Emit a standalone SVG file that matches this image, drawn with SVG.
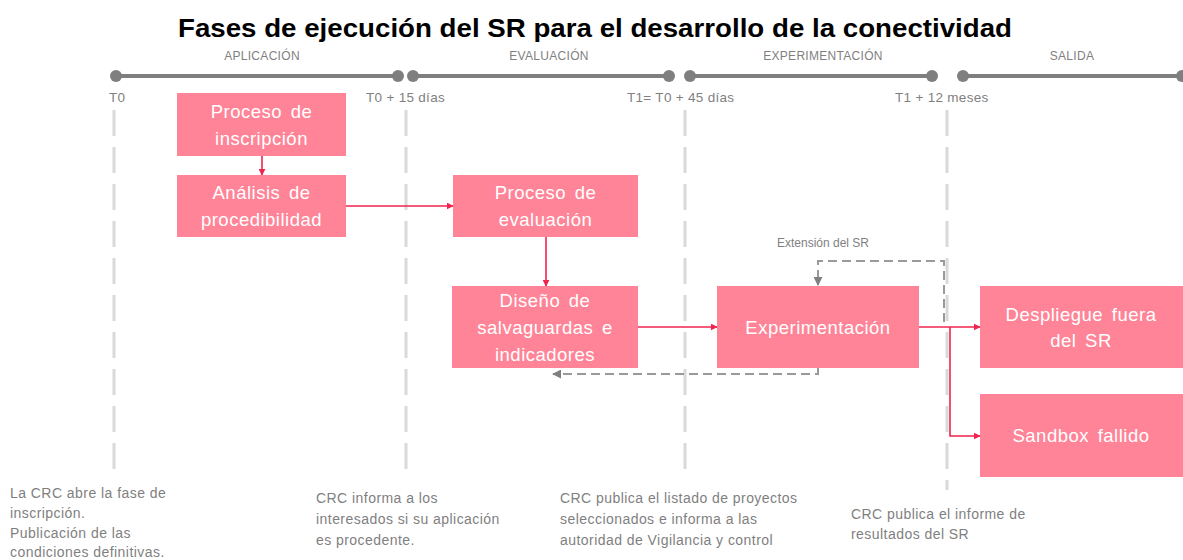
<svg xmlns="http://www.w3.org/2000/svg" width="1183" height="560" viewBox="0 0 1183 560">
<style>
.box{fill:#ff8497}
.bt{font-family:"Liberation Sans",Arial,sans-serif;font-size:18.5px;fill:#ffffff;text-anchor:middle;letter-spacing:0.5px;word-spacing:3px}
.ph{font-family:"Liberation Sans",Arial,sans-serif;font-size:12px;fill:#7f7f7f;text-anchor:middle;letter-spacing:0.3px}
.tl{font-family:"Liberation Sans",Arial,sans-serif;font-size:13.5px;fill:#7f7f7f;letter-spacing:0.3px}
.nt{font-family:"Liberation Sans",Arial,sans-serif;font-size:14px;fill:#7f7f7f;letter-spacing:0.45px}
.seg{stroke:#7f7f7f;stroke-width:4;fill:none}
.dot{fill:#7f7f7f}
.vl{stroke:#d9d9d9;stroke-width:3;stroke-dasharray:26 11;fill:none}
.ra{stroke:#f0244f;stroke-width:1.6;fill:none;marker-end:url(#ar)}
.ga{stroke:#9a9a9a;stroke-width:2;stroke-dasharray:9 5;fill:none;marker-end:url(#ag)}
</style>
<defs>
<marker id="ar" viewBox="0 0 10 10" refX="9" refY="5" markerWidth="7" markerHeight="7" markerUnits="userSpaceOnUse" orient="auto"><path d="M0,0 L10,5 L0,10 z" fill="#f0244f"/></marker>
<marker id="ag" viewBox="0 0 10 10" refX="9" refY="5" markerWidth="9" markerHeight="9" markerUnits="userSpaceOnUse" orient="auto"><path d="M0,0 L10,5 L0,10 z" fill="#7f7f7f"/></marker>
</defs>
<rect width="1183" height="560" fill="#ffffff"/>
<text x="595" y="37" font-family="'Liberation Sans',Arial,sans-serif" font-size="26" font-weight="bold" fill="#000" text-anchor="middle" textLength="834" lengthAdjust="spacingAndGlyphs">Fases de ejecución del SR para el desarrollo de la conectividad</text>
<g id="timeline">
<text class="ph" x="262" y="60">APLICACIÓN</text>
<text class="ph" x="549" y="60">EVALUACIÓN</text>
<text class="ph" x="823" y="60">EXPERIMENTACIÓN</text>
<text class="ph" x="1072" y="60">SALIDA</text>
<line class="seg" x1="116" y1="76" x2="398" y2="76"/><circle class="dot" cx="116" cy="76" r="6"/><circle class="dot" cx="398" cy="76" r="6"/>
<line class="seg" x1="413" y1="76" x2="669" y2="76"/><circle class="dot" cx="413" cy="76" r="6"/><circle class="dot" cx="669" cy="76" r="6"/>
<line class="seg" x1="690" y1="76" x2="932" y2="76"/><circle class="dot" cx="690" cy="76" r="6"/><circle class="dot" cx="932" cy="76" r="6"/>
<line class="seg" x1="963" y1="76" x2="1182" y2="76"/><circle class="dot" cx="963" cy="76" r="6"/><circle class="dot" cx="1182" cy="76" r="6"/>
<text class="tl" x="109" y="102">T0</text>
<text class="tl" x="366" y="102">T0 + 15 días</text>
<text class="tl" x="627" y="102">T1= T0 + 45 días</text>
<text class="tl" x="895" y="102">T1 + 12 meses</text>
<line class="vl" x1="114" y1="110" x2="114" y2="478"/>
<line class="vl" x1="406" y1="110" x2="406" y2="478"/>
<line class="vl" x1="685" y1="110" x2="685" y2="478"/>
<line class="vl" x1="947" y1="110" x2="947" y2="490"/>
</g>
<g id="connectors">
<path class="ra" d="M262 156 V175"/>
<path class="ra" d="M346 206 H453"/>
<path class="ra" d="M546 237 V286"/>
<path class="ra" d="M638 327 H717"/>
<path class="ra" d="M919 327 H980"/>
<path class="ra" d="M950 327 V436 H980"/>
<path class="ga" d="M944 322 V261 H818 V285"/>
<path class="ga" d="M818 368 V374 H553"/>
<text x="823" y="247" font-family="'Liberation Sans',Arial,sans-serif" font-size="12" fill="#7f7f7f" text-anchor="middle">Extensión del SR</text>
</g>
<g id="n-inscripcion"><rect class="box" x="177" y="93" width="169" height="63"/><text class="bt" x="261.5" y="118">Proceso de</text><text class="bt" x="261.5" y="145">inscripción</text></g>
<g id="n-analisis"><rect class="box" x="177" y="175" width="169" height="62"/><text class="bt" x="261.5" y="199">Análisis de</text><text class="bt" x="261.5" y="226">procedibilidad</text></g>
<g id="n-evaluacion"><rect class="box" x="453" y="175" width="185" height="62"/><text class="bt" x="545.5" y="199">Proceso de</text><text class="bt" x="545.5" y="226">evaluación</text></g>
<g id="n-diseno"><rect class="box" x="452" y="286" width="186" height="82"/><text class="bt" x="545" y="307">Diseño de</text><text class="bt" x="545" y="334">salvaguardas e</text><text class="bt" x="545" y="361">indicadores</text></g>
<g id="n-experimentacion"><rect class="box" x="717" y="286" width="202" height="82"/><text class="bt" x="818" y="334">Experimentación</text></g>
<g id="n-despliegue"><rect class="box" x="980" y="286" width="203" height="82"/><text class="bt" x="1081" y="321">Despliegue fuera</text><text class="bt" x="1081" y="347">del SR</text></g>
<g id="n-sandbox"><rect class="box" x="980" y="394" width="203" height="83"/><text class="bt" x="1081" y="442">Sandbox fallido</text></g>
<g id="notes">
<text class="nt" x="10" y="498">La CRC abre la fase de</text>
<text class="nt" x="10" y="518">inscripción.</text>
<text class="nt" x="10" y="538">Publicación de las</text>
<text class="nt" x="10" y="557">condiciones definitivas.</text>
<text class="nt" x="316" y="503">CRC informa a los</text>
<text class="nt" x="316" y="524">interesados si su aplicación</text>
<text class="nt" x="316" y="545">es procedente.</text>
<text class="nt" x="560" y="503">CRC publica el listado de proyectos</text>
<text class="nt" x="560" y="524">seleccionados e informa a las</text>
<text class="nt" x="560" y="545">autoridad de Vigilancia y control</text>
<text class="nt" x="851" y="519">CRC publica el informe de</text>
<text class="nt" x="851" y="539">resultados del SR</text>
</g>
</svg>
